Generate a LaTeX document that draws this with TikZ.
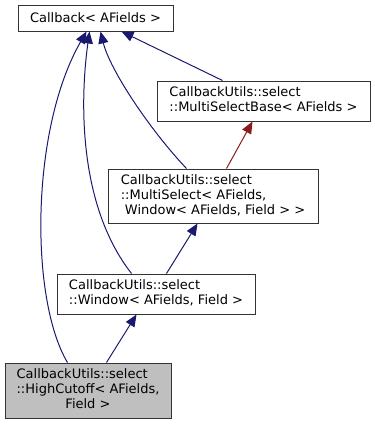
\documentclass[tikz,border=0pt]{standalone}
\usepackage{fontspec}
\setmainfont{DejaVu Sans}
\usetikzlibrary{arrows.meta}
\definecolor{edgeblue}{RGB}{25,25,112}
\definecolor{edgered}{RGB}{139,26,26}
\definecolor{boxline}{RGB}{51,51,51}
\definecolor{boxfill}{RGB}{191,191,191}
\begin{document}
\begin{tikzpicture}[x=1pt,y=-1pt,
  cls/.style={draw=boxline, line width=1pt, fill=white, inner sep=0pt,
    font=\fontsize{13}{15}\selectfont, anchor=center},
  current/.style={cls, fill=boxfill},
  inherit/.style={draw=edgeblue, line width=1pt,
    -{Triangle[length=12pt,width=10pt]}, fill=none},
  instance/.style={draw=edgered, line width=1pt,
    -{Triangle[length=12pt,width=10pt]}}
]
\useasboundingbox (0,0) rectangle (375,424);

% class boxes
\node[cls, minimum width=155pt, minimum height=26pt] (cb) at (95.5,18)
  {Callback< AFields >};
\node[cls, minimum width=213pt, minimum height=40pt] (msb) at (263.5,101)
  {\begin{tabular}{@{}l@{}}CallbackUtils::select\\::MultiSelectBase< AFields >\end{tabular}};
\node[cls, minimum width=210pt, minimum height=54pt] (ms) at (213,196)
  {\begin{tabular}{@{}l@{}}CallbackUtils::select\\::MultiSelect< AFields,\\\ Window< AFields, Field > >\end{tabular}};
\node[cls, minimum width=198pt, minimum height=40pt] (win) at (156,294)
  {\begin{tabular}{@{}l@{}}CallbackUtils::select\\::Window< AFields, Field >\end{tabular}};
\node[current, minimum width=166pt, minimum height=55pt] (hc) at (88,390.5)
  {\begin{tabular}{@{}l@{}}CallbackUtils::select\\::HighCutoff< AFields,\\\multicolumn{1}{@{}c@{}}{Field >}\end{tabular}};

% inheritance edges
\draw[inherit] ([xshift=66pt]msb.north west) -- ([xshift=104pt]cb.south west);
\draw[inherit] ([xshift=79pt]ms.north west)
  .. controls (150,130) and (110,70) .. ([xshift=83pt]cb.south west);
\draw[instance] ([xshift=119pt]ms.north west) -- ([xshift=96pt]msb.south west);
\draw[inherit] ([xshift=75pt]win.north west)
  .. controls (78,205) and (80,100) .. ([xshift=72pt]cb.south west);
\draw[inherit] ([xshift=110pt]win.north west) -- ([xshift=90pt]ms.south west);
\draw[inherit] ([xshift=63pt]hc.north west)
  .. controls (30,300) and (30,130) .. ([xshift=69pt]cb.south west);
\draw[inherit] ([xshift=102pt]hc.north west) -- ([xshift=80pt]win.south west);
\end{tikzpicture}
\end{document}
